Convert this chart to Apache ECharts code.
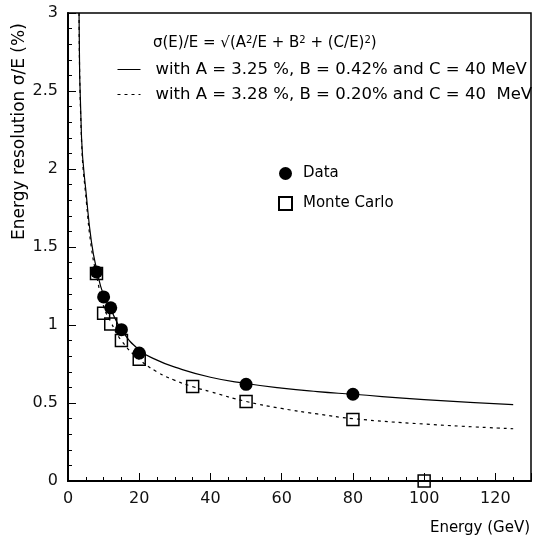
<!DOCTYPE html>
<html>
<head>
<meta charset="utf-8">
<script src="https://cdn.jsdelivr.net/npm/echarts@6/dist/echarts.min.js"></script>
<style>html,body{margin:0;padding:0;background:#fff}#c{width:534px;height:540px}</style>
</head>
<body>
<div id="c"></div>
<script>
// Measured points (energy in GeV, resolution in %)
const dataE = [8, 10, 12, 15, 20, 50, 80];
const dataRes = [1.34, 1.18, 1.11, 0.97, 0.82, 0.62, 0.556];
const mcE = [8, 10, 12, 15, 20, 35, 50, 80, 100];
const mcRes = [1.33, 1.075, 1.006, 0.90, 0.78, 0.605, 0.51, 0.395, 0.0];
// Fit curves
const fit1E = [3.1, 3.8, 5.2, 6.6, 8, 10, 12, 15, 20, 25, 30, 40, 50, 60, 70, 80, 100, 125];
const fit1Res = [3.0, 2.2, 1.82, 1.53, 1.36, 1.19, 1.10, 0.97, 0.84, 0.775, 0.73, 0.665, 0.625, 0.595, 0.573, 0.556, 0.522, 0.49];
const fit2E = [3.1, 3.8, 5.2, 6.6, 8, 10, 12, 15, 20, 25, 30, 35, 40, 50, 60, 70, 80, 100, 125];
const fit2Res = [3.0, 2.18, 1.78, 1.49, 1.32, 1.12, 1.02, 0.90, 0.78, 0.70, 0.645, 0.605, 0.572, 0.51, 0.465, 0.43, 0.40, 0.365, 0.335];
const xTicks = [0, 20, 40, 60, 80, 100, 120];
const yTicks = [0, 0.5, 1, 1.5, 2, 2.5, 3];
const fit1Name = 'with A = 3.25 %, B = 0.42% and C = 40 MeV';
const fit2Name = 'with A = 3.28 %, B = 0.20% and C = 40  MeV';
const formula = 'σ(E)/E = √(A{s|2}/E + B{s|2} + (C/E){s|2})';

const zip = (a, b) => a.map((v, i) => [v, b[i]]);
const FONT = 'DejaVu Sans';
const chart = echarts.init(document.getElementById('c'), null, {renderer: 'canvas'});
chart.setOption({
  animation: false,
  backgroundColor: '#fff',
  textStyle: {fontFamily: FONT, color: '#000'},
  grid: {left: 68, right: 2, top: 13, bottom: 59, show: true, borderColor: '#000', borderWidth: 1.5},
  xAxis: {
    type: 'value', min: 0, max: 130, interval: 20,
    axisLine: {show: true, onZero: false, lineStyle: {color: '#000', width: 2}},
    axisTick: {show: true, inside: true, length: 8, lineStyle: {color: '#000', width: 1}},
    minorTick: {show: true, splitNumber: 4, length: 4, lineStyle: {color: '#000', width: 1}},
    splitLine: {show: false},
    axisLabel: {fontFamily: FONT, fontSize: 16, color: '#111', margin: 10,
      formatter: v => xTicks.includes(v) ? String(v) : ''}
  },
  yAxis: {
    type: 'value', min: 0, max: 3, interval: 0.5,
    axisLine: {show: true, onZero: false, lineStyle: {color: '#000', width: 2}},
    axisTick: {show: true, inside: true, length: 8, lineStyle: {color: '#000', width: 1}},
    minorTick: {show: true, splitNumber: 5, length: 4, lineStyle: {color: '#000', width: 1}},
    splitLine: {show: false},
    axisLabel: {fontFamily: FONT, fontSize: 16, color: '#111', margin: 10,
      formatter: v => yTicks.includes(v) ? String(v) : ''}
  },
  legend: [
    {
      data: [fit1Name, fit2Name],
      orient: 'vertical', left: 117, top: 61, padding: 0,
      itemWidth: 23, itemHeight: 14, itemGap: 8,
      itemStyle: {opacity: 0},
      lineStyle: {width: 1},
      textStyle: {fontFamily: FONT, fontSize: 16.5, color: '#000', padding: [0, 0, 0, 10]},
      selectedMode: false
    },
    {
      data: ['Data', 'Monte Carlo'], orient: 'vertical', left: 278, top: 166, padding: 0,
      itemWidth: 13, itemHeight: 13, itemGap: 15,
      textStyle: {fontFamily: FONT, fontSize: 15, color: '#000', padding: [0, 0, 0, 6]},
      selectedMode: false
    }
  ],
  graphic: [
    {type: 'text', left: 153, top: 35, style: {text: formula, font: '15px "DejaVu Sans"', fill: '#000',
      rich: {s: {fontSize: 10, fontFamily: FONT, verticalAlign: 'top', padding: [0, 0, 7, 0]}}}},
    {type: 'text', right: 4, top: 521, style: {text: 'Energy (GeV)', font: '15px "DejaVu Sans"', fill: '#000'}},
    {type: 'text', x: 20, y: 240, rotation: Math.PI / 2,
      style: {text: 'Energy resolution σ/E (%)', font: '17px "DejaVu Sans"', fill: '#000', textVerticalAlign: 'middle', textAlign: 'left'}}
  ],
  series: [
    {name: fit1Name, type: 'line', data: zip(fit1E, fit1Res), symbol: 'none', smooth: true,
      lineStyle: {color: '#000', width: 1.2}, itemStyle: {color: '#000'}, z: 2},
    {name: fit2Name, type: 'line', data: zip(fit2E, fit2Res), symbol: 'none', smooth: true,
      lineStyle: {color: '#000', width: 1.2, type: [3, 4]}, itemStyle: {color: '#000'}, z: 2},
    {name: 'Data', type: 'scatter', data: zip(dataE, dataRes), symbol: 'circle', symbolSize: 13,
      itemStyle: {color: '#000', opacity: 1}, z: 4, clip: false},
    {name: 'Monte Carlo', type: 'scatter', data: zip(mcE, mcRes), symbol: 'rect', symbolSize: 12,
      itemStyle: {color: 'rgba(0,0,0,0)', borderColor: '#000', borderWidth: 1.5, opacity: 1}, z: 3, clip: false}
  ]
});
</script>
</body>
</html>
